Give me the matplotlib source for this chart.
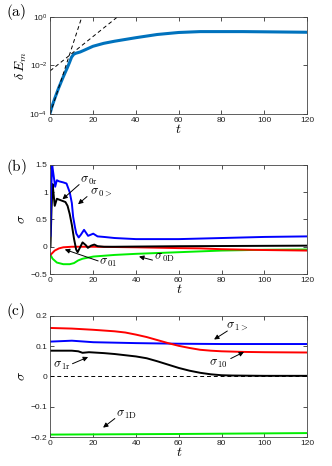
import numpy as np
import matplotlib
matplotlib.use("Agg")
from matplotlib import pyplot as plt

plt.rcParams['mathtext.fontset'] = 'cm'
plt.rcParams['font.family'] = ['Liberation Sans', 'DejaVu Sans']

# ---------------- datos (a) ----------------
t_a = [0, 1, 2, 4, 6, 8, 9, 10, 11, 12, 14, 16, 20, 25, 30, 40, 50, 60, 70, 80, 90, 100, 110, 120]
dE_a = [1.1e-4, 2.2e-4, 4e-4, 1.2e-3, 3.2e-3, 8e-3, 1.3e-2, 2.2e-2, 2.9e-2, 3.2e-2, 3.6e-2, 4.3e-2,
        6.2e-2, 8.2e-2, 0.1, 0.14, 0.19, 0.23, 0.25, 0.25, 0.25, 0.245, 0.24, 0.235]
fit1_t = [0, 14.8]
fit1_y = [1e-4, 1.0]
fit2_t = [0, 31.4]
fit2_y = [6e-3, 1.0]

# ---------------- datos (b) ----------------
t_b_blue = [0, 0.3, 0.8, 1.5, 2.2, 3, 4, 6, 7.5, 9, 10, 10.6, 11.5, 12.1, 13.2, 14.2, 15.7, 17.6, 20, 22, 25, 30, 40, 60, 80, 100, 120]
s_b_blue = [0.2, 1.0, 1.5, 1.3, 1.1, 1.22, 1.2, 1.18, 1.16, 1.0, 0.8, 0.55, 0.35, 0.24, 0.17, 0.22, 0.31, 0.2, 0.24, 0.19, 0.18, 0.16, 0.14, 0.14, 0.16, 0.18, 0.19]
t_b_black = [0, 0.5, 1.0, 1.5, 2.0, 3, 5, 7, 8, 9, 10, 11, 12, 12.7, 14, 15, 16.5, 17.5, 19, 20.5, 22, 25, 30, 60, 120]
s_b_black = [0.0, 0.7, 1.15, 0.95, 0.75, 0.88, 0.85, 0.82, 0.75, 0.6, 0.4, 0.15, -0.05, -0.1, 0.0, 0.08, 0.03, -0.02, 0.02, 0.04, 0.01, 0.0, 0.0, 0.01, 0.02]
t_b_red = [0, 2, 4, 6, 10, 20, 40, 60, 70, 80, 100, 120]
s_b_red = [-0.15, -0.07, -0.03, -0.01, 0.0, 0.0, -0.01, -0.025, -0.03, -0.045, -0.06, -0.07]
t_b_green = [0, 1, 3, 6, 9, 11, 13, 15, 20, 30, 40, 60, 80, 100, 120]
s_b_green = [-0.15, -0.22, -0.29, -0.32, -0.32, -0.3, -0.25, -0.22, -0.18, -0.15, -0.13, -0.1, -0.07, -0.055, -0.05]

# etiquetas (b): texto, posicion texto, cola y punta de la flecha
lab_b = [r'$\sigma_{\,0\mathrm{r}}$', r'$\sigma_{\,0>}$', r'$\sigma_{\,01}$', r'$\sigma_{\,0\mathrm{D}}$']
txt_b = [(13.7, 1.2), (18.7, 1.0), (22.7, -0.29), (48.3, -0.21)]
tail_b = [(13.4, 1.14), (17.1, 0.92), (22.3, -0.26), (47.7, -0.245)]
tip_b = [(5.6, 0.87), (12.9, 0.78), (6.7, -0.05), (41.4, -0.18)]

# ---------------- datos (c) ----------------
t_c_red = [0, 10, 20, 30, 35, 40, 45, 50, 55, 60, 65, 70, 75, 80, 90, 100, 120]
s_c_red = [0.16, 0.158, 0.154, 0.149, 0.145, 0.138, 0.13, 0.12, 0.11, 0.101, 0.094, 0.088, 0.085, 0.083, 0.081, 0.08, 0.079]
t_c_blue = [0, 10, 14, 20, 40, 60, 80, 100, 120]
s_c_blue = [0.115, 0.118, 0.116, 0.113, 0.11, 0.108, 0.107, 0.107, 0.107]
t_c_black = [0, 10, 13, 15, 18, 25, 30, 40, 45, 50, 55, 60, 65, 70, 75, 80, 85, 100, 120]
s_c_black = [0.085, 0.085, 0.083, 0.078, 0.08, 0.077, 0.074, 0.066, 0.06, 0.05, 0.039, 0.028, 0.019, 0.012, 0.007, 0.004, 0.003, 0.002, 0.002]
t_c_green = [0, 60, 120]
s_c_green = [-0.192, -0.19, -0.187]

lab_c = [r'$\sigma_{\,1>}$', r'$\sigma_{\,10}$', r'$\sigma_{\,1\mathrm{r}}$', r'$\sigma_{\,1\mathrm{D}}$']
txt_c = [(82.2, 0.167), (74.1, 0.042), (1.2, 0.035), (30.8, -0.128)]
tail_c = [(82.7, 0.150), (84.3, 0.059), (10.3, 0.042), (30.1, -0.139)]
tip_c = [(76.5, 0.122), (90.5, 0.081), (17.6, 0.064), (24.6, -0.169)]

# ===============================================================
fig = plt.figure(figsize=(3.32, 4.66), dpi=100)
ax_a = fig.add_axes([0.151, 0.7554, 0.774, 0.2081])
ax_b = fig.add_axes([0.152, 0.412, 0.773, 0.234])
ax_c = fig.add_axes([0.152, 0.0622, 0.773, 0.26])

def style(ax):
    ax.tick_params(direction='in', top=True, right=True, labelsize=6, length=3,
                   width=0.6, pad=2, colors='#333333', labelcolor='#222222')
    ax.tick_params(which='minor', length=0)
    for s in ax.spines.values():
        s.set_linewidth(0.6)
        s.set_color('#444444')
    ax.set_xlim(0, 120)
    ax.set_xticks([0, 20, 40, 60, 80, 100, 120])
    ax.set_xlabel(r'$t$', fontsize=10, labelpad=-1)

def etiquetas(ax, labs, txts, tails, tips):
    for lab, p, a, b in zip(labs, txts, tails, tips):
        ax.text(p[0], p[1], lab, fontsize=9, va='center')
        ax.annotate('', xy=b, xytext=a,
                    arrowprops=dict(arrowstyle='-|>', color='black', lw=0.7,
                                    mutation_scale=7, shrinkA=0, shrinkB=0))

# (a)
ax_a.semilogy(t_a, dE_a, color='#0072BD', lw=2.2)
ax_a.plot(fit1_t, fit1_y, 'k--', lw=0.7, dashes=(4, 3))
ax_a.plot(fit2_t, fit2_y, 'k--', lw=0.7, dashes=(4, 3))
ax_a.set_ylim(1e-4, 1)
ax_a.set_yticks([1e-4, 1e-2, 1])
style(ax_a)
ax_a.set_ylabel(r'$\delta\, E_m$', fontsize=10, labelpad=0)
fig.text(0.018, 0.965, r'$(\mathrm{a})$', fontsize=11)

# (b)
lw = 1.4
ax_b.plot(t_b_green, s_b_green, color='#00ee00', lw=lw)
ax_b.plot(t_b_red, s_b_red, color='#ff0000', lw=lw)
ax_b.plot(t_b_black, s_b_black, color='black', lw=lw)
ax_b.plot(t_b_blue, s_b_blue, color='#0000ff', lw=lw)
ax_b.set_ylim(-0.5, 1.5)
ax_b.set_yticks([-0.5, 0, 0.5, 1, 1.5])
ax_b.set_yticklabels(['\u22120.5', '0', '0.5', '1', '1.5'])
style(ax_b)
ax_b.set_ylabel(r'$\sigma$', fontsize=10, labelpad=2)
fig.text(0.018, 0.632, r'$(\mathrm{b})$', fontsize=11)
etiquetas(ax_b, lab_b, txt_b, tail_b, tip_b)

# (c)
ax_c.axhline(0, color='black', lw=0.7, dashes=(4, 3))
ax_c.plot(t_c_green, s_c_green, color='#00ee00', lw=lw)
ax_c.plot(t_c_blue, s_c_blue, color='#0000ff', lw=lw)
ax_c.plot(t_c_red, s_c_red, color='#ff0000', lw=lw)
ax_c.plot(t_c_black, s_c_black, color='black', lw=lw)
ax_c.set_ylim(-0.2, 0.2)
ax_c.set_yticks([-0.2, -0.1, 0, 0.1, 0.2])
ax_c.set_yticklabels(['\u22120.2', '\u22120.1', '0', '0.1', '0.2'])
style(ax_c)
ax_c.set_ylabel(r'$\sigma$', fontsize=10, labelpad=2)
fig.text(0.018, 0.325, r'$(\mathrm{c})$', fontsize=11)
etiquetas(ax_c, lab_c, txt_c, tail_c, tip_c)

fig.savefig('out.png', dpi=100)
